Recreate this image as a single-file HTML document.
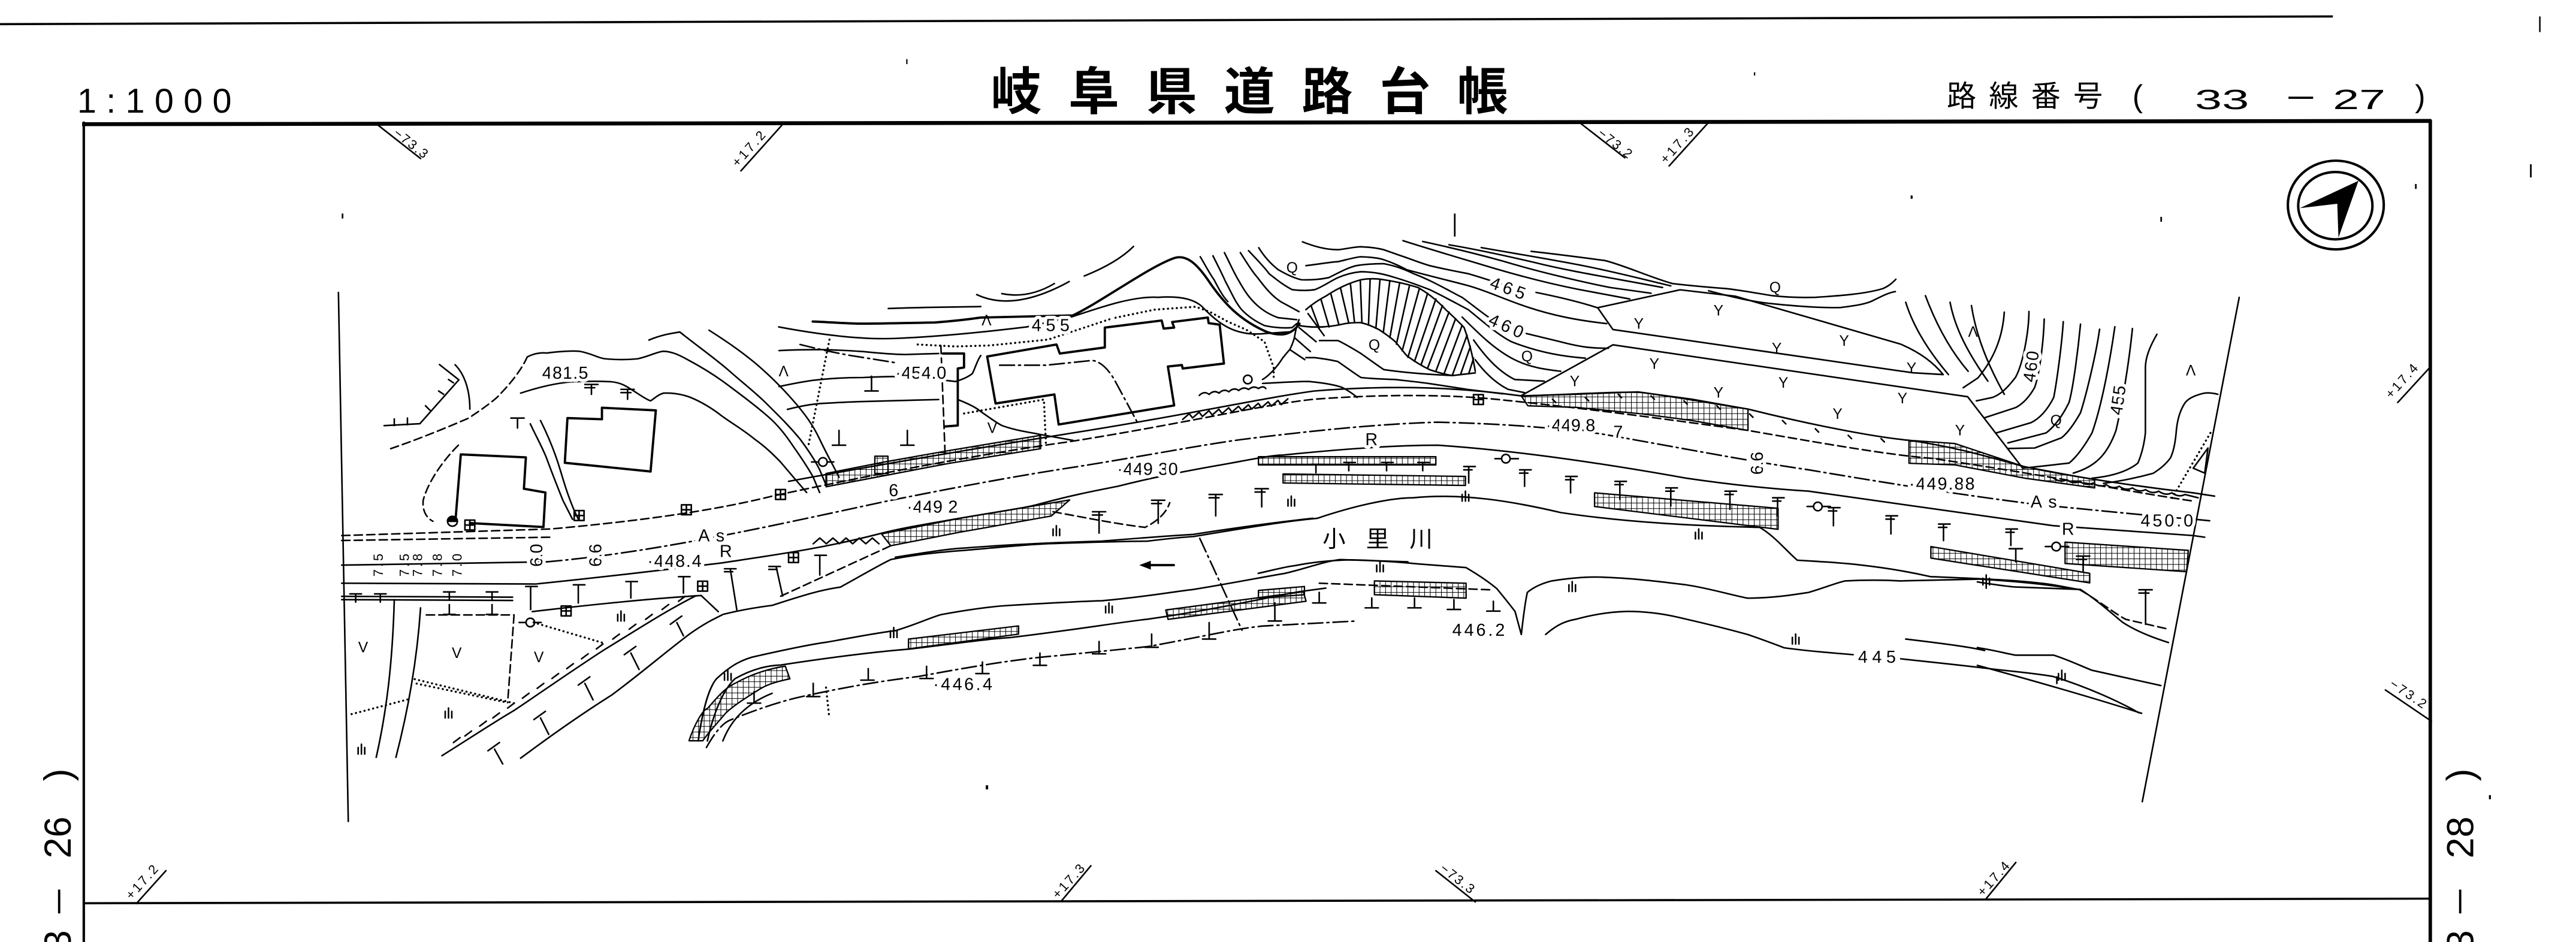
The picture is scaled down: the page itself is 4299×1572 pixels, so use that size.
<!DOCTYPE html>
<html><head><meta charset="utf-8">
<style>
html,body{margin:0;padding:0;background:#fff;}
svg{display:block;}
.s{stroke:#000;fill:none;stroke-width:.95;stroke-linejoin:round;stroke-linecap:round}
.tk{stroke-width:1.4}
.d{stroke-dasharray:5 2.6}
.dd{stroke-dasharray:9 2.5 1.2 2.5}
.dt{stroke-dasharray:.1 2.6;stroke-width:1.25}
.h{fill:url(#g);stroke:#000;stroke-width:.85}
text{font-family:"Liberation Sans","Noto Sans CJK JP",sans-serif;fill:#000}
.lb{font-size:10.5px;paint-order:stroke;stroke:#fff;stroke-width:4px;stroke-linejoin:round}
.st{font-size:8px}
.sym{font-size:9px}
</style></head><body>
<svg width="4299" height="1572" viewBox="0 0 1568 573.4" preserveAspectRatio="none" xmlns="http://www.w3.org/2000/svg">
<defs>
<pattern id="g" width="3.4" height="3.4" patternUnits="userSpaceOnUse"><path d="M0,0H3.4M0,0V3.4" stroke="#000" stroke-width=".75" fill="none"/></pattern>
</defs>
<rect x="0" y="0" width="1568" height="573.4" fill="#fff"/>

<!-- ===== HEADER ===== -->
<path d="M0,14.7 L1420,10" stroke="#000" stroke-width="1.3" fill="none"/>
<path d="M1546,10 V19.5" stroke="#000" stroke-width="0.9"/>
<path d="M552,36 V39" stroke="#000" stroke-width="0.8"/>
<path d="M1068,44 V46" stroke="#000" stroke-width="0.8"/>
<text x="47" y="68.6" font-size="21" textLength="94" lengthAdjust="spacing">1:1000</text>
<text x="603" y="66.7" font-size="31" font-weight="700" textLength="315" lengthAdjust="spacing">岐阜県道路台帳</text>
<text x="1185" y="64.8" font-size="18" textLength="95" lengthAdjust="spacing">路線番号</text>
<text x="1298" y="65" font-size="19">(</text>
<text x="1336" y="66.3" font-size="17" textLength="33" lengthAdjust="spacingAndGlyphs">33</text>
<path d="M1393,59.5 H1408" stroke="#000" stroke-width="1.4"/>
<text x="1420" y="66.3" font-size="17" textLength="32" lengthAdjust="spacingAndGlyphs">27</text>
<text x="1470" y="65" font-size="19">)</text>

<!-- ===== FRAME ===== -->
<path d="M50,75.6 L1480,73.6" stroke="#000" stroke-width="2.4" fill="none"/>
<path d="M51,74 V573.4" stroke="#000" stroke-width="1.5" fill="none"/>
<path d="M1479.3,73 V573.4" stroke="#000" stroke-width="2.1" fill="none"/>
<path d="M51,549.8 L1479,547" stroke="#000" stroke-width="1.3" fill="none"/>

<!-- side labels -->
<text transform="translate(43,475.5) rotate(-90)" font-size="23">)</text>
<text transform="translate(43,522.5) rotate(-90)" font-size="23" textLength="25.5" lengthAdjust="spacingAndGlyphs">26</text>
<path d="M36,541.5 V556" stroke="#000" stroke-width="1.4"/>
<text transform="translate(43,579) rotate(-90)" font-size="23">3</text>
<text transform="translate(1505.5,475.5) rotate(-90)" font-size="23">)</text>
<text transform="translate(1505.5,522.5) rotate(-90)" font-size="23" textLength="25.5" lengthAdjust="spacingAndGlyphs">28</text>
<path d="M1497.5,541.5 V556" stroke="#000" stroke-width="1.4"/>
<text transform="translate(1505.5,579) rotate(-90)" font-size="23">3</text>

<!-- station ticks -->
<g class="s">
<path d="M229,75.3 L256,96.5"/><path d="M451,104 L477,75"/>
<path d="M962,75 L989,96"/><path d="M1016,101 L1040,74.5"/>
<path d="M1459.5,245 L1479.2,223.5"/><path d="M1452,420 L1480,439"/>
<path d="M83,550 L101,530"/><path d="M646,548.5 L664,527"/>
<path d="M874,530 L898,549"/><path d="M1209,547 L1227,525"/>
</g>
<text class="st" transform="translate(239,82) rotate(38)" textLength="24">−73.3</text>
<text class="st" transform="translate(449,102) rotate(-48)" textLength="26">+17.2</text>
<text class="st" transform="translate(972,82) rotate(38)" textLength="24">−73.2</text>
<text class="st" transform="translate(1014,100) rotate(-48)" textLength="26">+17.3</text>
<text class="st" transform="translate(1455.5,243) rotate(-48)" textLength="25">+17.4</text>
<text class="st" transform="translate(1454,417.5) rotate(34)" textLength="25">−73.2</text>
<text class="st" transform="translate(80,548) rotate(-48)" textLength="25">+17.2</text>
<text class="st" transform="translate(644,547.5) rotate(-48)" textLength="25">+17.3</text>
<text class="st" transform="translate(876,529.5) rotate(38)" textLength="24">−73.3</text>
<text class="st" transform="translate(1207,546) rotate(-48)" textLength="25">+17.4</text>

<!-- north arrow -->
<ellipse cx="1421.8" cy="124.8" rx="29.2" ry="27" fill="none" stroke="#000" stroke-width="1.5"/>
<ellipse cx="1421.5" cy="125.2" rx="22.6" ry="20.5" fill="none" stroke="#000" stroke-width="1.5"/>
<path d="M1435.6,110 L1399.9,126.7 L1422.7,124 L1423.4,144.7 Z" fill="#000"/>

<!-- ===== MAP ===== -->
<g class="s">
<!-- clip lines -->
<path d="M206,178 L212,500"/>
<path d="M1363,181 L1304,488"/>

<!-- hatched areas -->
<path class="h" d="M502.8,288.2 L538.4,281.2 L578,274.2 L633.4,265 L633.4,273.1 L578,282 L538.4,289.5 L502.8,296.3 Z"/>
<path class="h" d="M532.5,277.7 h8 v10.5 h-8z"/>
<path class="h" d="M926,241 L960,240 L997,238.5 L1030,243 L1064,249 L1064,262 L1030,256 L1000,252 L960,248 L930,247 Z"/>
<path class="h" d="M1162,268 L1190,270 L1232,284 L1275,292 L1275,297 L1232,291 L1190,283 L1162,282 Z"/>
<path class="h" d="M766,278 L874,278 L874,283 L766,283 Z"/>
<path class="h" d="M781,288.5 L892,290 L892,295.5 L781,294 Z"/>
<path class="h" d="M970.6,300 L1082.3,309.4 L1082.3,322.2 L970.6,308.3 Z"/>
<path class="h" d="M1175.3,332.7 L1272,349 L1272,354.8 L1175.3,339.7 Z"/>
<path class="h" d="M1257,330 L1332,335 L1331,348 L1257,343 Z"/>
<path class="h" d="M536.6,325 L584,315.5 L651.1,304.3 L639.9,314.1 L584,324 L542.2,332.2 Z"/>
<path class="h" d="M709.6,371.3 L793.4,360.2 L795,366 L711,377 Z"/>
<path class="h" d="M836.6,353.6 L892.4,355 L892.4,364.1 L836.6,362 Z"/>
<path class="h" d="M766,359.4 L794,357 L794,362 L766,364 Z"/>
<path class="h" d="M553,389 L620,381 L620,386 L553,395 Z"/>
<path class="h" d="M419.4,450.9 C423,440 428,432 430.6,431.3 C437,424 441,419 447.3,416 C458,410 468,407 478,405.5 L480.8,413.2 C472,415 466,417 461.3,420.2 C452,426 446,430 441.7,434.1 C436,441 431,446 427.8,450.9 Z"/>

<!-- road -->
<path class="d" d="M208,326 L335,322 C380,318 430,312 470,302 C540,287 600,276 650,269 C720,258 770,246 800,243 C840,240 880,240 910,243 C970,249 1020,256 1064,262 C1110,270 1150,277 1176,279 C1250,290 1300,300 1335,305"/>
<path d="M480,293 C540,282 600,272 650,264 C720,253 770,242 800,238 C850,234 890,236 926,241 C960,240 990,238 1000,239 C1030,243 1050,247 1064,249 C1100,258 1140,266 1162,268 C1190,272 1210,278 1232,284 C1260,290 1300,296 1335,300"/>
<path class="d" d="M208,329 L335,327"/>
<path d="M208,344 L333,342"/>
<path class="dd" d="M333,342 C400,336 470,320 540,305 C600,293 630,288 653,284.5 C700,277 730,271 756,267.5 C800,262 840,258 875,257 C920,258 950,261 974,264 C1020,272 1060,280 1101,286 C1160,296 1200,302 1239,307 C1290,312 1320,315 1335,316"/>
<path d="M208,355 L326,355.5 C380,350 410,346 439,342.7 C470,338 500,334 533.8,325.3 C550,321 570,318 584.1,315.5 C610,311 625,309 631.5,307.1 C650,302 665,299 680.4,296 C700,291 720,287 748.7,282 C765,279 775,277 781,277 C820,273 850,271 875,271 C920,274 970,281 1026,291 C1060,296 1085,298 1101,299 C1150,306 1200,313 1250,320 L1335,326"/>
<path d="M1250,291 Q1254,294 1258,292 Q1262,295 1266,293 Q1270,296 1274,294 Q1278,297 1282,295 Q1286,298 1290,296 Q1294,299 1298,297 Q1302,300 1306,298 Q1310,301 1314,299 Q1318,302 1322,300 Q1326,303 1330,301 L1338,303"/>
<!-- left road area -->
<path d="M208,363 L312,363.5"/>
<path d="M208,365 L312,365.5"/>
<path class="d" d="M259.5,374.3 L312.9,374.3"/>
<path d="M324,372.3 C360,368 400,364 426.8,362.5"/>
<path d="M426.8,362.5 L437.2,372.3"/>
<path d="M240,365 C239,400 236,430 229,461"/>
<path d="M256,370 C254,400 249,430 241,461"/>
<path d="M1335,300 L1348,302 M1335,316 L1345,317 M1335,326 L1342,327"/>

<!-- left buildings / features -->
<path d="M233.8,259.1 L255.6,257.9 L279.3,231.2 L267.5,221.9"/>
<path d="M240,259 V255 M248,258.5 V254.5 M262,250 L259,247 M270,240 L267,238 M276,233 L273,231"/>
<path d="M277,222 C283,228 286,238 286,249"/>
<path class="d" d="M237.8,273.1 C250,269 268,262 285.3,254.5 C295,248 302,243 305,239.3 C312,232 318,224 320.9,217.3"/>
<path class="d" d="M279,271 C268,282 260,295 257.6,304.5 C257,310 259,315 263.5,317.3"/>
<path class="tk" d="M280.5,276.6 L320.1,278.4 L318.9,297.5 L332,299.8 L330.8,320.8 M286,318.4 L330.8,320.8 M280.5,276.6 L277.3,316.1"/>
<path class="tk" d="M345.4,254.5 L366.4,255.2 L366.4,248.2 L399.2,249.8 L396,287 L343.8,281.7 Z"/>
<circle cx="275.4" cy="317.3" r="3"/>
<path d="M272.4,317.3 A3,3 0 0 1 278.4,317.3 Z" fill="#000"/>
<path d="M320.9,217.3 C325,215 330,214.5 332.7,214.9 C340,214 348,213.5 352.5,213.8 C360,215 364,218 368.3,218.4 C375,219 382,219 388.1,218.4 C395,217 400,214 403.9,213.8 C410,214 415,217 419.8,219.6 C428,224 436,229 443.5,234.7 C452,241 460,247 467.2,253.3 C474,259 479,266 483,271.9 C488,279 492,285 495,290.5 L498.9,299.8"/>
<path d="M316.9,239.3 C330,235 340,233 348.5,232.4 C358,232 366,232 372.3,232.4 C378,233 381,235 384.2,237 C389,240 393,243 396,244 C399,242 401,240 403.9,239.3 C410,239 415,240 419.8,241.7 C428,245 434,249 439.5,253.3 C446,258 453,262 459.3,267.3 C466,272 471,277 475.1,281.2 L483,290.5 L491,299.8"/>
<path d="M322.8,258 C326,265 330,272 332.7,278.9 C336,288 340,298 342.6,304.5 L348.5,316.1"/>
<path d="M329,256 C334,266 338,276 341,286 C344,296 347,306 352,316"/>
<path d="M413.8,202.1 C425,211 435,218 443.5,225.4 C452,233 460,239 467.2,246.3 C475,254 481,260 487,267.3 C492,274 496,280 498.9,285.9 L502.8,295.2"/>
<path d="M431.6,201 C441,207 450,213 459.3,220.7 C468,228 476,236 483,244 C490,252 495,259 498.9,267.3 C503,276 507,283 510.7,290.5"/>
<path d="M395,207 C402,204 408,203 413.8,202.1"/>

<!-- upper-left contours -->
<path d="M540.7,187.8 C560,187 580,187 597,186.6"/>
<path d="M474,199 C490,202 520,207 545,206 C570,205 600,202 625,199 L652,193 C670,187 690,180 705,181 C718,180 728,182 733,188 C742,197 752,205 770,203 L785,202"/>
<path class="tk" d="M494.7,195.7 C505,196 515,197 525.4,197 C540,197 555,196.5 568.9,196.3 C580,195.5 590,194.3 597,193.3 L653,192 C670,184 700,162 715,157 C722,155 728,160 735,170 C745,185 755,195 771,202 C780,205 786,204 791,197"/>
<path d="M594.5,179.3 Q617,190 650.8,171.4"/>
<path d="M609.8,178.7 Q626,182 641.8,172.6"/>
<path d="M660,168 Q680,160 690,150"/>
<path d="M474.2,213.4 C485,212.8 495,212.8 499.8,212.8 C510,213 518,213.5 525.4,214 C535,215 545,215.7 551,215.8 L571.4,215.2"/>
<path class="dd" d="M487,209.7 C500,213 510,215 517.7,216.4 C528,218 537,219.5 544.6,220.7"/>
<path d="M474.2,235.3 C485,233 493,231.5 499.8,231 C510,230 518,229.8 525.4,229.8 C535,229.4 540,229.2 545.8,229.2 C556,229.5 565,230.5 571.4,231 C576,231.5 579,232 581.7,232.2 C586,231 590,229 591.9,227.4 C594,223 595,219 597,216.4"/>
<path d="M479.3,249.2 C488,247 494,246 499.8,245.6 C510,245 518,244.6 525.4,244.4 L571.4,243.2"/>
<path class="dt" d="M504.9,206.7 L492.1,271.1"/>
<path class="d" d="M572.7,210.3 L575.3,277.2"/>
<path class="tk" d="M574,215.2 L586.8,215.2 L586.8,223.7 L583,224.3 L583,259 L575.3,259.6"/>
<path d="M583,243.2 C590,246 594,248 597,250.5 C602,254 606,257 609.8,259 C618,262 626,263 632.9,264.4 L653.3,268.1"/>
<path class="dt" d="M586.8,251.7 L635.4,243.2 L636.7,271.1"/>
<path class="dt" d="M679,193.4 L702.7,188.5 L727.8,186.7 L736.2,189.7 L747.4,195.8 L758.6,200.7 L769.7,208 L775.3,223.8 L775.3,231"/>
<path class="dt" d="M558.6,209.7 L581.7,210.9 L602.2,210.3 L638,206.7 L676.4,194"/>

<!-- top-mid building -->
<path class="tk" d="M600.9,217 L643.1,209.7 L645.1,215.2 L672.5,211.5 L672.5,199.4 L707.1,195.1 L708.3,200 L714.7,199.4 L713.5,196 L735.2,193.3 L735.7,196.7 L742.4,197.6 L745,221.3 L719.9,224.3 L719.4,222.2 L710.9,223.1 L714.7,246.8 L644.4,258.4 L641.8,240.1 L606,245.6 Z"/>
<path class="dd" d="M608.5,222.3 L636.7,222.3 L664.8,219.4 C670,220 675,225 678.9,232.2 L693,258.4"/>
<circle cx="759.5" cy="231" r="2.6"/>
<path d="M730,240.7 q3,-3 6,-0.6 q3,-3 6,-0.8 q3,-3 6,-0.8 q3,-3 6,-0.8 q3,-2.6 6,-0.6 q3,-2.6 6,-0.6 q3,-2 4.5,0"/>
<path d="M768.5,233.4 C780,232.7 790,232.2 796.6,232.2 C805,233 812,234 817.1,235.9 C821,238 824,240 826,241.9"/>
<path d="M719.9,255.3 l4,-3.5 l2,2.6 l4,-3.5 l2,2.6 l4,-3.5 l2,2.6 l4,-3.5 l2,2.6 l4,-3.5 l2,2.6 l4,-3.5 l2,2.6 l4,-3.5 l2,2.6 l4,-3.5 l2,2.6 l4,-3.5 l2,2.6 l4,-3.5 l2,2.6 l4,-3.5"/>
<path d="M790.7,194.6 C789,199 788.5,202 787.9,205.5 C787,209 786,211 785.1,212.8 C783,215 782,216.5 780.9,217.7 C777,224 772,229 768.5,231"/>

<!-- contours left of fan -->
<path d="M738.3,155.7 C742,163 744,167 746,171.5 C750,179 752,184 755.8,188.5 C760,193 765,196 769.7,198.2 C776,199.5 782,199.8 786.5,199.4 L789.3,197"/>
<path d="M745.3,153.8 C749,161 751,166 754.4,171.5 C758,178 761,182 765.5,186.1 C770,190 774,192 778.1,193.4 L789.3,194.6"/>
<path d="M755,153.8 C759,160 762,165 765.5,169 C770,175 774,180 779.5,183.6 L790.7,189.7"/>
<path d="M730.6,156.3 C734,162 736,166 739,170.3 C742,176 744,180 747.4,183.6"/>
<!-- contours over fan continuing right -->
<path d="M792.8,147.2 C800,150 807,152 814.4,152 C820,151.5 824,150.2 828.4,150.2 C835,150.5 838,151 842.3,152 C848,154 852,155.5 856.3,156.9 C862,159 866,160.5 870.2,161.7 C880,164 888,165.5 893.7,166.6 C902,169 908,171 914,173 M935,178 C950,181 962,184 972,187.2"/>
<path d="M794.9,161.7 C805,160.5 810,159.5 814.4,159.3 C820,158 825,156.5 828.4,156.3 C835,156.5 839,157 842.3,158.1 C848,160 852,162 856.3,164.2 C870,168 885,171.5 893.7,173.9 C905,177 915,182 930,187 C945,192 960,195 978,197"/>
<path d="M766.2,150.8 C770,157 774,161 778.1,164.2 C783,167 787,169 792.1,170.3 C798,170.5 804,170 808.8,169 C815,166 820,163 825.6,161.7 C831,160.8 837,160.5 842.3,160.5 C850,162 855,164 860.5,166.6 C872,171 882,177 890.1,181.1 C898,187 903,191 906,193 M929,203 C937,205 946,207 954,209.1 C962,211 968,212 979,212"/>
<path d="M760,152.6 C766,159 770,163 772.5,166.6 C778,171 782,174 786.5,176.3 C792,177 796,177 800.4,176.3 C806,174 810,171 814.4,169 C819,167 824,165.8 828.4,165.4 C837,165.5 843,167 849.3,169 C856,171 863,173.5 870.2,176.3 C880,181 888,185.5 893.7,188.5 C903,196 912,204 920,208 C935,214 950,217 965,218"/>
<path d="M854,146.5 C868,151 885,156 905,162 C925,168 945,173 960,176 L992,182"/>
<path d="M866,147 C880,150 897,154 915,159 C935,165 960,171 980,175 L1005,178.5"/>
<path d="M882,149 C900,152 918,156 935,160 C955,165 980,169 1012,175"/>
<path d="M901.6,150.7 C920,154 945,158 965,162 C985,166 1000,170 1017,174"/>
<path d="M932,153 C950,155 965,157 977,158.6 C990,162 1005,169 1018,172.6 C1030,174 1042,175 1051,175.7 C1062,177 1072,179 1079,180 C1088,181 1095,181.3 1105,181 C1120,180 1135,179 1146,175.7 C1150,174 1152,172 1154,170"/>
<path d="M1040,177 C1055,181 1068,184 1080,185 C1095,186.5 1110,187.5 1120.4,187.2 C1130,186 1136,185 1140,183 C1146,180 1150,178 1153.7,177.5"/>
<path d="M890,193 C900,203 910,213 922,219 C932,224 942,225 950,226"/>
<path d="M897,207 C904,217 912,226 922,231 L940,232"/>
<path d="M898,219 C903,226 910,233 918,237 L928,239"/>
<path d="M794.9,217.7 L800.4,217.7 C806,218.5 810,219 814.4,220.1 C820,224 824,227 828.4,229.8 C835,230.5 842,230.8 849.3,231 C856,231.8 863,232.5 870.2,233.5 L893.7,237.1 L914.8,239.7"/>
<path d="M803.2,207.3 L814.4,207.3 C820,210 824,212.5 828.4,215.2 C833,218.5 838,222 842.3,225 C856,227 870,228 884.2,228.6"/>

<!-- fan -->
<path d="M794.9,188.5 C800,184 804,182 807.4,180 C815,175 822,172 828.4,170.3 C833,169.5 838,169.5 842.3,170.3 C850,171.5 857,173 863.3,175.1 C870,179 875,183 880,188.5 C885,193 888,196 891.2,199.4 C895,210 897,220 898,226"/>
<path d="M790,198 C800,200 810,199 818.6,197 C822,196.5 825,196.3 828.4,196.4 C833,197.5 836,199 839.5,200.7 C843,203 846,205 849.3,208 C852,211 854,214 856.3,216.5 C861,220 866,223 870.2,225 C876,227 880,228 884.2,228.6 L898,227"/>
<path d="M798,186 L803,199.5 M804,182 L809,199 M810,178.5 L815,197.8 M816,175.5 L821,196.7 M822,172.8 L824.5,196.4 M828,170.5 L829,196.6 M834,169.8 L833,197.8 M840,170 L837.5,199.8 M846,170.8 L842,202.5 M852,172 L846,205.5 M858,173.6 L850,209.5 M864,175.5 L853.5,213.5 M869,178.5 L857,217.5 M874,182 L861,220 M878,186 L865,222 M882,190 L869,224 M886,194 L874,226 M890,198 L879,227.5 M893,204 L884,228.5 M895,211 L889,228 M897,218 L894,227.5"/>
<path d="M796.2,190.9 L806,204.3 M790.7,199.4 L801.1,208 M787.9,205.5 L797.6,214 M785.1,212.8 L794.2,218.9"/>

<!-- trapezoid embankment -->
<path d="M972.5,187.3 L1022.7,176.4 L1056.2,180.3 L1156.7,209.4 C1170,215 1178,222 1182.8,228 L1164.2,226.9 L981.8,200.6 Z"/>
<path d="M926,240.8 L981.8,209.9 L1197.7,241.5 L1231.2,285"/>
<path d="M945,243 l2,2 M965,242 l2,2 M985,240 l2,2 M1005,241 l2,2 M1025,244 l2,2 M1045,247 l2,2 M1065,252 l2,2 M1085,256 l2,2 M1105,261 l2,2 M1125,265 l2,2 M1145,267 l2,2"/>

<!-- right contour family C -->
<path d="M1160,184 C1165,200 1175,215 1186,228"/>
<path d="M1172,180 C1178,196 1186,212 1198,226"/>
<path d="M1187,184 C1190,200 1198,215 1210,232"/>
<path d="M1200,186 C1203,205 1210,222 1220,240"/>
<path d="M1220,190 C1219,205 1214,218 1204,230 L1195,236"/>
<path d="M1235,189.6 C1235,200 1232,220 1226.9,229.6 C1222,236 1218,240 1212.9,241.9 L1203,244"/>
<path d="M1244.3,194.2 C1244,205 1242,226 1238.5,235.8 C1235,242 1231,246 1226.9,248.1 L1208.3,254.2"/>
<path d="M1255.9,195.8 C1255,210 1252,232 1250.1,241.9 C1246,250 1241,255 1236.2,257.3 L1215.2,263.5"/>
<path d="M1266.4,197.3 C1265,212 1262,236 1259.4,245 C1255,254 1250,260 1245.5,263.5 L1222.2,269.6"/>
<path d="M1278,200.4 C1276,215 1270,240 1266.4,251.2 C1262,259 1258,264 1254.8,266.5 L1238.5,272.7 L1222,273"/>
<path d="M1287.3,198.9 C1285,215 1280,245 1273.4,263.5 C1268,273 1263,279 1259.4,281.9 L1231.5,285"/>
<path d="M1298,200 C1296,220 1292,245 1288,262 C1283,276 1276,284 1262,288"/>
<path d="M1312.9,203.5 C1308,212 1306,218 1305.9,223.5 C1306,240 1306,255 1305.9,263.5 C1305,272 1303,278 1301.3,281.9 C1295,287 1285,290 1273.4,291.1"/>
<path d="M1350,240 C1346,239 1343,239 1340.8,239.5 C1335,241 1331,243 1329.2,246.5 C1326,252 1325,258 1324.6,263.5 C1324,270 1323,275 1321.1,278.8 C1318,283 1314,286 1310.6,288.1 C1300,291 1290,293 1280.4,294.2"/>
<path class="dt" d="M1345.5,263.5 L1322,303.4"/>
<path d="M1335,285 L1344,272.7 L1342,288 Z"/>

<!-- river north bank & water lines -->
<path d="M440,374 C452,371 462,369.5 470,368.5 C490,362 500,359 511.5,357.4 C525,350 535,344 542.2,340.6 C560,337 575,336 586.9,335 C610,333 630,331 642.7,330.8 C665,330 685,329.5 698.5,329.4 C710,328 720,327 726.4,326.6 C760,321 785,317 801.8,315.5 C830,306 850,303 860,303 C890,300 920,305 950,312 C990,318 1030,320 1071,321 C1080,326 1088,336 1094,341 C1110,342 1140,343 1175,351 C1200,352 1230,353 1250,356 L1266,359"/>
<path d="M545,339.2 C565,336 578,334 586.9,333.6 C620,331 650,330 670.6,329.4 C700,327 715,326 726.4,325.3 C760,320 785,317 799,315.5"/>
<path class="d" d="M1266,359 C1278,366 1288,374 1294,377 L1320,383"/>
<path class="d" d="M641,311.5 C660,315 680,319 697,321 C705,317 710,312 712,306"/>
<path class="d" d="M475.2,362.9 L542.2,332.2"/>
<path d="M765.9,349 C775,347 782,345 788.2,344.3 C800,342 812,341 821.7,340.8 C835,341 850,342 862.7,343.2 L892.4,345.5 C900,350 906,354 911.1,358.3 C915,363 919,368 922.2,372.2 L926,386.2 C927,378 928,368 929.7,360.6 C934,357 939,355 944.6,353.6 C955,352 965,351 974.3,351.3 C995,352 1010,354 1026.4,356 C1040,358 1053,362 1063.7,364.1 C1080,364 1092,362 1100.9,360.6 C1110,358 1117,355 1123.2,353.6 C1135,353 1146,353 1156.7,353.6 L1205.1,352.5 C1230,354 1248,356 1260.9,358.3"/>
<path d="M1203.6,354.2 C1215,356 1222,357 1226.9,357.3 L1266.4,358.8 C1276,365 1285,373 1292,378.8 C1300,384 1310,388 1319.9,391.1"/>
<path d="M940.8,386.2 C948,380 953,378 959.4,376.9 C970,374 980,372.5 989.2,372.2 C1002,372 1015,374 1026.4,376.9 C1040,380 1052,383 1063.7,386.2 C1072,389 1080,392 1086,394.3 C1098,396 1110,397 1119.5,397.8 L1128,398.5 M1157,401 C1175,403 1195,405 1212.5,407.2 C1228,409 1240,410 1249.8,411.8 C1270,418 1290,427 1301.9,433.9"/>
<path d="M1203.6,394.2 C1215,396 1222,398 1226.9,398.8 L1250.1,398.8 C1260,402 1268,406 1273.4,408 L1315.3,417.3"/>
<path d="M1203.6,405 C1240,415 1275,425 1303.6,434.2"/>
<path d="M1160,389 C1185,392 1200,394 1208,396"/>

<!-- river south bank -->
<path d="M425,451 C428,430 432,418 436.1,413.2 C445,405 452,401 461.3,399.2 C480,395 495,392 503.1,390.9 C520,388 535,385 545,383.9 C558,380 566,376 572.9,374.1 C590,371 605,369 614.8,368.5 C640,367 660,366 670.6,365.7 C700,363 715,360 726.4,358.8 C750,355 770,351 782.2,349 C795,346 805,342 815.7,340.6 L857,342"/>
<path d="M430.6,451 C434,435 440,420 447.3,413.2 C458,407 468,405 475.2,404.8 C500,401 530,397 553.4,395.1 C580,392 600,389 614.8,388.1 C650,384 680,379 698.5,376.9 C740,371 770,364 790.6,360.2 L807,358"/>
<path d="M440,451 C445,438 455,428 470,422"/>
<path class="dd" d="M430,455 C435,446 440,440 444.5,438.3 C460,432 475,427 486.4,424.4 C515,418 540,414 559,411.8 C590,406 620,401 642.7,399.2 C665,397 685,395 698.5,393.6 C730,388 750,383 768.3,381.1 L826,378"/>
<path class="d" d="M803,355 L907,359"/>
<path class="dt" d="M502.8,418.5 L504.8,437.1"/>

<!-- left-bottom embankment -->
<path d="M269,460 C285,450 300,440 313,432.4 C330,421 350,407 368.3,395.2 C390,382 405,372 423.7,362.6"/>
<path d="M316.9,461.5 C335,448 355,434 372.3,423.1 C390,410 405,397 419.8,385.9 C428,380 434,377 439.5,374.3"/>
<path d="M276,452 l4,-3 M283,448 l4,-3 M292,442 l4,-3 M300,437 l4,-3 M309,431 l4,-3 M318,425 l4,-3 M327,419 l4,-3 M336,413 l4,-3 M345,407 l4,-3 M354,401 l4,-3 M363,395 l4,-3 M373,389 l4,-3 M383,383 l4,-3 M393,377 l4,-3 M403,371 l4,-3 M413,366 l4,-3"/>
<path d="M301,456 l5,9 M297,457 l7,-5 M329,437 l5,10 M325,438 l7,-5 M356,416 l5,10 M352,417 l7,-5 M384,397.5 l5,10 M380,398.5 l7,-5 M412,379 l4,8 M408,380 l7,-5"/>
<path class="dt" d="M324.8,378.9 L368.3,391.7"/>
<path class="dt" d="M253.6,416.1 L309,427.7"/>
<path class="dt" d="M214,434.7 L249.6,425.4"/>
<path class="dt" d="M252.4,413.4 L315.2,428.6"/>
<path class="d" d="M312.9,374.3 L309,427.7"/>

<!-- T symbols (slope marks) -->
<path d="M891,284h7M891,286h5M894,284v10 M925,286h7M925,288h5M928,286v10 M953,290h7M953,292h5M956,290v10 M983,293h7M983,295h5M986,293v11 M1014,297h7M1014,299h5M1017,297v11 M1050,299h7M1050,301h5M1053,299v11 M1079,303h7M1079,305h5M1082,303v11 M1113,309h7M1113,311h5M1116,309v11 M1148,314h7M1148,316h5M1151,314v11 M1180,319h7M1180,321h5M1183,319v10 M1221,322h7M1221,324h5M1224,322v10"/>
<path d="M320,357h7M323,357v14 M349,356h7M352,356v11 M381,354h7M384,354v10 M413,351h7M416,351v10 M441,346.2h7M441,348h5M444.5,346.2l4,25 M468,344.8h7M468,346.6h5M472.4,344.8l4,18 M496,338h7M499,338v12"/>
<path d="M665,311.5h8M665,313.5h6M669,311.5v13 M701,304.5h8M701,306.5h6M705,304.5v14 M736,301h8M736,303h6M740,301v13 M764,297.5h8M764,299.5h6M768,297.5v11"/>
<path d="M798,282.7h7M801,282.7v5 M818,281.5h7M821,281.5v5 M841,281.5h7M844,281.5v5 M863,281.5h7M866,281.5v5"/>
<path d="M772,378h8M776,367v11 M732,389h8M736,379v10 M697,394h8M701,386v8 M665,398h8M669,390.5v7.5 M629,405h8M633,397.5v7.5 M594,410h8M598,403v7 M560,413h8M564,405.6v7.4 M524,414h8M528.5,407v7 M491,424h8M495,416v8 M455,428h8M459,421v7"/>
<path d="M799,367h8M803,360.6v6.4 M831,370h8M835,364v6 M857,370h8M861,364v6 M881,371h8M885,365v6 M905,372h8M909,366v6"/>
<path d="M1264,338.5h8M1264,340.5h6M1268,338.5v9 M1302,359h8M1302,361h6M1306,359v21 M1223,334h8M1227,334v8"/>
<path d="M356,234h8M356,236h6M360,234v6 M378,237h8M378,239h6M382,237v6 M311,254.5h8M315,254.5v6 M213,361.5h7M216.5,361.5v5 M228,361.5h7M231.5,361.5v5 M270,360.3h7M273.5,360.3v5 M296,360.3h7M299.5,360.3v5 M270,374h7M273.5,368v6 M296,374h7M299.5,368v6"/>
<path d="M526.5,238h8M530.5,229v9 M506.7,271h8M510.7,262v9 M548.3,271h8M552.3,262v9"/>

<!-- small squares & circles -->
<path d="M283,316.6h6v6h-6zM286,316.6v6M283,319.6h6 M349.5,310.8h6v6h-6zM352.5,310.8v6M349.5,313.8h6 M414.8,307.3h6v6h-6zM417.8,307.3v6M414.8,310.3h6 M472.1,298h6v6h-6zM475.1,298v6M472.1,301h6 M341.6,368.9h6v6h-6zM344.6,368.9v6M341.6,371.9h6 M424.7,353.8h6v6h-6zM427.7,353.8v6M424.7,356.8h6 M480,336.4h6v6h-6zM483,336.4v6M480,339.4h6 M896.9,240.2h6v6h-6zM899.9,240.2v6M896.9,243.2h6"/>
<circle cx="500.9" cy="281.2" r="2.6"/><path d="M494,281.2h4.3M503.5,281.2h4"/>
<circle cx="322.8" cy="378.9" r="2.6"/><path d="M316,378.9h4.2M325.4,378.9h4"/>
<circle cx="916.6" cy="279.2" r="2.6"/><path d="M910,279.2h4M919.2,279.2h5"/>
<circle cx="1106.5" cy="308.3" r="2.6"/><path d="M1100,308.3h4M1109.1,308.3h5"/>
<circle cx="1251.6" cy="332.7" r="2.6"/><path d="M1245,332.7h4M1254.2,332.7h5"/>
<!-- sawtooth -->
<path d="M495,331 l4,-3.5 l4,3.5 l4,-3.5 l4,3.5 l4,-3.5 l4,3.5 l4,-3.5 l4,3.5 l4,-3.5 l4,3.5"/>
<!-- station dash-dot through river -->
<path class="dd" d="M730.3,327.7 L756,383.6"/>
<!-- grass marks -->
<path d="M376,378v-4M378,378v-6M380,378v-4 M641,326v-4M643,326v-6M645,326v-4 M673,373v-4M675,373v-6M677,373v-4 M542,388v-4M544,388v-6M546,388v-4 M441,414v-4M443,414v-6M445,414v-4 M271,437v-4M273,437v-6M275,437v-4 M218,459v-4M220,459v-6M222,459v-4 M784,308v-4M786,308v-6M788,308v-4 M890,305v-4M892,305v-6M894,305v-4 M1032,328v-4M1034,328v-6M1036,328v-4 M838,348v-4M840,348v-6M842,348v-4 M955,360v-4M957,360v-6M959,360v-4 M1207,356v-4M1209,356v-6M1211,356v-4 M1091,392v-4M1093,392v-6M1095,392v-4 M1253,414v-4M1255,414v-6M1257,414v-4 M1252,416v-4 M1209,358v-4"/>
<!-- arrow -->
<path d="M699,344 L714.5,344" stroke-width="1.4"/>
</g>
<path d="M693.5,344 L700.5,341.3 L700.5,346.7 Z" fill="#000"/>

<!-- map symbols as text -->
<g class="sym">
<text x="218" y="397">V</text><text x="275" y="400.5">V</text><text x="325" y="403">V</text><text x="601" y="263.5">V</text>
<text x="994.5" y="200">Y</text><text x="1043" y="192">Y</text><text x="1078.5" y="215">Y</text><text x="1119.5" y="210.5">Y</text><text x="1160.5" y="227">Y</text><text x="1004" y="224.5">Y</text><text x="955.5" y="235">Y</text><text x="1082.5" y="236">Y</text><text x="1043" y="242">Y</text><text x="1155" y="245.5">Y</text><text x="1115.5" y="255">Y</text><text x="1190" y="265">Y</text>
<text x="783" y="166">Q</text><text x="833" y="213">Q</text><text x="926" y="220">Q</text><text x="1077" y="178">Q</text><text x="1248" y="259">Q</text>
<text x="474" y="229">Λ</text><text x="597.5" y="198">Λ</text><text x="1198" y="205">Λ</text><text x="1330.5" y="228.5">Λ</text>
</g>

<!-- map labels -->
<text class="lb" x="330" y="230.5" textLength="28">481.5</text>
<text class="lb" x="545" y="230.5" textLength="31">·454.0</text>
<text class="lb" x="628" y="201.5" textLength="23">455</text>
<text class="lb" x="907" y="179" textLength="22" transform="rotate(20 918 175)">465</text>
<text class="lb" x="906" y="202" textLength="22" transform="rotate(24 917 198)">460</text>
<text class="lb" transform="translate(1238.5,233) rotate(-82)" textLength="19">460</text>
<text class="lb" transform="translate(1291.5,253) rotate(-82)" textLength="18">455</text>
<text class="lb" x="680" y="289" textLength="37">·449 30</text>
<text class="lb" x="541" y="302" textLength="7">6</text>
<text class="lb" x="552" y="312" textLength="31">·449 2</text>
<text class="lb" x="425" y="329.5" font-size="12" textLength="16">As</text>
<text class="lb" x="394" y="345" textLength="33">·448.4</text>
<text class="lb" x="438" y="339">R</text>
<text class="lb" x="831" y="271">R</text>
<text class="lb" x="941" y="262.5" textLength="30">·449.8</text>
<text class="lb" x="982" y="266.5">7</text>
<text class="lb" transform="translate(1073,289) rotate(-90)" textLength="14">6.6</text>
<text class="lb" x="1162" y="298" textLength="40">·449.88</text>
<text class="lb" x="1236" y="309" font-size="12" textLength="16">As</text>
<text class="lb" x="1303" y="320.5" textLength="32">450.0</text>
<text class="lb" x="1255" y="325.5">R</text>
<text class="lb" transform="translate(366,345) rotate(-90)" textLength="14">6.6</text>
<text class="lb" transform="translate(330,345) rotate(-90)" textLength="14">6.0</text>
<text class="st" transform="translate(233,351) rotate(-90)" textLength="14">7.5</text>
<text class="st" transform="translate(249,351) rotate(-90)" textLength="14">7.5</text>
<text class="st" transform="translate(257,351) rotate(-90)" textLength="14">7.8</text>
<text class="st" transform="translate(269,351) rotate(-90)" textLength="14">7.8</text>
<text class="st" transform="translate(281,351) rotate(-90)" textLength="14">7.0</text>
<text x="805" y="333" font-size="14" textLength="67" lengthAdjust="spacing">小里川</text>
<text class="lb" x="884" y="387" textLength="32">446.2</text>
<text class="lb" x="1131" y="403.5" textLength="23">445</text>
<text class="lb" x="568" y="420" textLength="36">·446.4</text>

<!-- stray specks -->
<g fill="#000">
<rect x="208" y="130" width="1" height="3"/>
<rect x="1163" y="119" width="1.2" height="2"/>
<rect x="1315" y="132" width="1" height="3"/>
<rect x="1470" y="112" width="1" height="3"/>
<rect x="600" y="478" width="1.5" height="2.5"/>
<rect x="885" y="130" width="1" height="14"/>
<rect x="1540" y="100" width="1" height="8"/>
<rect x="1515" y="484" width="1.2" height="2.5"/>
</g>
</svg>
</body></html>
